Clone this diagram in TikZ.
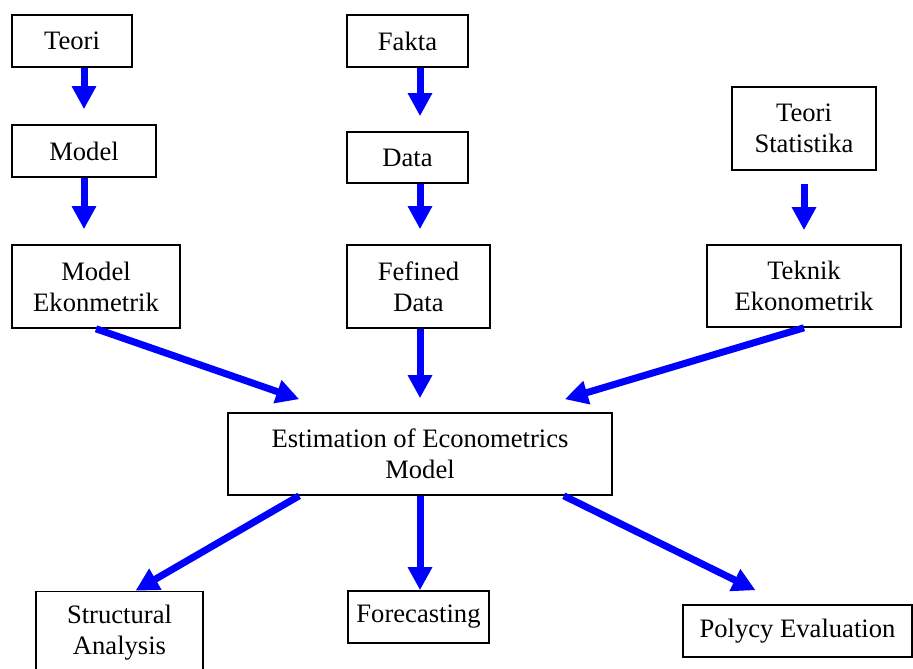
\documentclass[tikz,border=0pt]{standalone}
\usepackage{fontspec}
\setmainfont{Liberation Serif}
\usetikzlibrary{arrows.meta, calc}
\tikzset{
    box/.style={draw, line width=0.8pt, align=center, inner sep=0pt, font=\fontsize{13.3pt}{15.5pt}\selectfont},
    flow/.style={draw=blue, line width=3.5pt, -{Triangle[width=11.5pt, length=11.5pt]}}
}

\begin{document}
\begin{tikzpicture}[x=0.5pt, y=-0.5pt]
    \useasboundingbox (0,0) rectangle (913,668);

    % theory column
    \node[box, minimum width=60pt, minimum height=26pt] (teori) at (72,41) {Teori};
    \node[box, minimum width=72pt, minimum height=26pt] (model) at (84,151) {Model};
    \node[box, minimum width=84pt, minimum height=41.5pt] (modelek) at (96,286.5) {Model\\Ekonmetrik};

    % data column
    \node[box, minimum width=60.5pt, minimum height=26pt] (fakta) at (407.5,41) {Fakta};
    \node[box, minimum width=60.5pt, minimum height=25.5pt] (data) at (407.5,157.5) {Data};
    \node[box, minimum width=71.5pt, minimum height=41.5pt] (fefined) at (418.5,286.5) {Fefined\\Data};

    % statistics column
    \node[box, minimum width=72pt, minimum height=41.5pt] (teoristat) at (804,128.5) {Teori\\Statistika};
    \node[box, minimum width=97pt, minimum height=41pt] (teknik) at (804,286) {Teknik\\Ekonometrik};

    % estimation and uses
    \node[box, minimum width=192pt, minimum height=41pt] (est) at (420,454) {Estimation of Econometrics\\Model};
    \node[box, minimum width=83.5pt, minimum height=41.5pt] (struct) at (119.5,633) {Structural\\Analysis};
    \node[box, minimum width=70.5pt, minimum height=26pt] (forecast) at (418.5,617) {Forecasting};
    \node[box, minimum width=114.5pt, minimum height=26pt] (polycy) at (797.5,631) {Polycy Evaluation};

    \draw[flow, shorten >=7.5pt] (teori.south -| model) -- (model.north);
    \draw[flow, shorten >=7.5pt] (model.south) -- (model.south |- modelek.north);
    \draw[flow, shorten >=7.5pt] (fakta.south -| est) -- (data.north -| est);
    \draw[flow, shorten >=7.5pt] (data.south -| est) -- (fefined.north -| est);
    \draw[flow, shorten <=6.5pt, shorten >=7pt] (teoristat.south) -- (teknik.north);

    \draw[flow] (modelek.south) -- ($(est.north west)+(72,-13)$);
    \draw[flow, shorten >=7pt] (fefined.south -| est) -- (est.north);
    \draw[flow] (teknik.south) -- ($(est.north east)+(-48,-13)$);

    \draw[flow] ($(est.south west)+(72,0)$) -- ($(struct.north)+(16,0)$);
    \draw[flow] (est.south) -- (forecast.north -| est);
    \draw[flow] ($(est.south east)+(-49,0)$) -- ($(polycy.north)+(-42,-14)$);
\end{tikzpicture}
\end{document}
